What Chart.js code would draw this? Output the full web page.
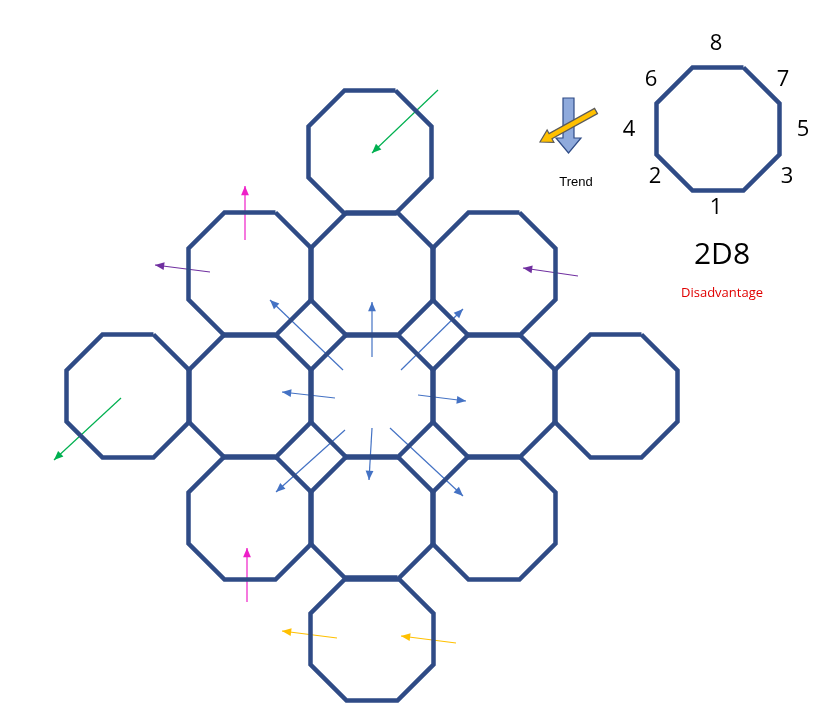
<!DOCTYPE html>
<html>
<head>
<meta charset="utf-8">
<script src="https://cdn.jsdelivr.net/npm/chart.js@4"></script>
<style>body{margin:0;background:#fff}canvas{display:block}</style>
</head>
<body>
<canvas id="chart" width="840" height="722"></canvas>
<script>
// board octagon centres (x, y in picture units)
const cellX = [370, 250, 372, 494, 128, 250, 372, 494, 616, 250, 372, 494, 372];
const cellY = [152, 274, 274, 274, 396, 396, 396, 396, 396, 518, 518, 518, 639];
const keyCell = [718, 129];
const cellWidth = 123;

// arrows: tail x, tail y, head x, head y, colour
const arrowTail = [[438, 90], [121, 398], [245, 240], [247, 602], [210, 272], [578, 276], [337, 638], [456, 643],
  [372, 357], [343, 370], [401, 370], [335, 398], [418, 395], [345, 430], [372, 428], [390, 428]];
const arrowHead = [[372, 153], [54, 460], [245, 186], [247, 548], [155, 265], [523, 268], [282, 631], [401, 636],
  [372, 302], [270, 300], [463, 309], [282, 392], [466, 401], [276, 492], [369, 480], [463, 496]];
const arrowColor = ["#00b050", "#00b050", "#ee1fc8", "#ee1fc8", "#7030a0", "#7030a0", "#ffc000", "#ffc000",
  "#4472c4", "#4472c4", "#4472c4", "#4472c4", "#4472c4", "#4472c4", "#4472c4", "#4472c4"];

// key labels
const faceLabels = ["8", "7", "6", "5", "4", "3", "2", "1"];
const faceX = [716, 783, 651, 803, 629, 787, 655, 716];
const faceY = [44, 80, 80, 130, 130, 177, 177, 208];

function octagon(cx, cy, w) {
  const r = w / 2, s = r * Math.tan(Math.PI / 8);
  const p = [[s, -r], [r, -s], [r, s], [s, r], [-s, r], [-r, s], [-r, -s], [-s, -r], [s, -r]];
  return p.map(q => ({ x: cx + q[0], y: cy + q[1] }));
}

const datasets = [];
cellX.forEach((x, i) => datasets.push({ data: octagon(x, cellY[i], cellWidth), kind: "oct" }));
datasets.push({ data: octagon(keyCell[0], keyCell[1], cellWidth), kind: "oct" });
arrowTail.forEach((t, i) => datasets.push({
  data: [{ x: t[0], y: t[1] }, { x: arrowHead[i][0], y: arrowHead[i][1] }],
  kind: "arrow", borderColor: arrowColor[i], borderWidth: 1.2
}));
datasets.forEach(d => {
  d.showLine = true; d.pointRadius = 0; d.tension = 0;
  if (d.kind === "oct") { d.borderColor = "#2f4b86"; d.borderWidth = 4.5; d.borderJoinStyle = "miter"; }
});

const decor = {
  id: "decor",
  afterDatasetsDraw(c) {
    const ctx = c.ctx, xs = c.scales.x, ys = c.scales.y;
    const X = v => xs.getPixelForValue(v), Y = v => ys.getPixelForValue(v);
    ctx.save();
    // arrow heads
    c.data.datasets.forEach((d, i) => {
      if (d.kind !== "arrow") return;
      const pts = c.getDatasetMeta(i).data;
      const a = pts[0], b = pts[1];
      const ang = Math.atan2(b.y - a.y, b.x - a.x);
      ctx.fillStyle = d.borderColor;
      ctx.beginPath();
      ctx.moveTo(b.x, b.y);
      ctx.lineTo(b.x - 10 * Math.cos(ang - 0.4), b.y - 10 * Math.sin(ang - 0.4));
      ctx.lineTo(b.x - 10 * Math.cos(ang + 0.4), b.y - 10 * Math.sin(ang + 0.4));
      ctx.closePath(); ctx.fill();
    });
    // trend icon: blue block arrow
    ctx.lineWidth = 1.2; ctx.strokeStyle = "#2f4b86";
    ctx.fillStyle = "#8faadc";
    ctx.beginPath();
    ctx.moveTo(X(563), Y(98)); ctx.lineTo(X(574), Y(98)); ctx.lineTo(X(574), Y(138));
    ctx.lineTo(X(581), Y(138)); ctx.lineTo(X(568.5), Y(153)); ctx.lineTo(X(556), Y(138));
    ctx.lineTo(X(563), Y(138)); ctx.closePath(); ctx.fill(); ctx.stroke();
    // yellow block arrow
    ctx.save();
    ctx.translate(X(596), Y(111)); ctx.rotate(Math.atan2(31, -56));
    ctx.fillStyle = "#ffc000"; ctx.strokeStyle = "#5a5a5a";
    ctx.beginPath();
    ctx.moveTo(0, -3); ctx.lineTo(52, -3); ctx.lineTo(52, -7); ctx.lineTo(64, 0);
    ctx.lineTo(52, 7); ctx.lineTo(52, 3); ctx.lineTo(0, 3); ctx.closePath(); ctx.fill(); ctx.stroke();
    ctx.restore();
    // texts
    ctx.textAlign = "center"; ctx.textBaseline = "middle";
    ctx.fillStyle = "#000";
    ctx.font = "13px 'Liberation Sans', Arial, sans-serif";
    ctx.fillText("Trend", X(576), Y(182));
    ctx.font = "22px 'Open Sans', 'DejaVu Sans', sans-serif";
    faceLabels.forEach((t, i) => ctx.fillText(t, X(faceX[i]), Y(faceY[i])));
    ctx.font = "30px 'Open Sans', 'DejaVu Sans', sans-serif";
    ctx.fillText("2D8", X(722), Y(255));
    ctx.fillStyle = "#e00000";
    ctx.font = "13px 'Open Sans', 'DejaVu Sans', sans-serif";
    ctx.fillText("Disadvantage", X(722), Y(293));
    ctx.restore();
  }
};

new Chart(document.getElementById("chart"), {
  type: "scatter",
  data: { datasets },
  options: {
    responsive: false, animation: false,
    layout: { padding: 0 },
    plugins: { legend: { display: false }, tooltip: { enabled: false } },
    scales: {
      x: { type: "linear", min: 0, max: 840, display: false },
      y: { type: "linear", min: 0, max: 722, reverse: true, display: false }
    }
  },
  plugins: [decor]
});
</script>
</body>
</html>
